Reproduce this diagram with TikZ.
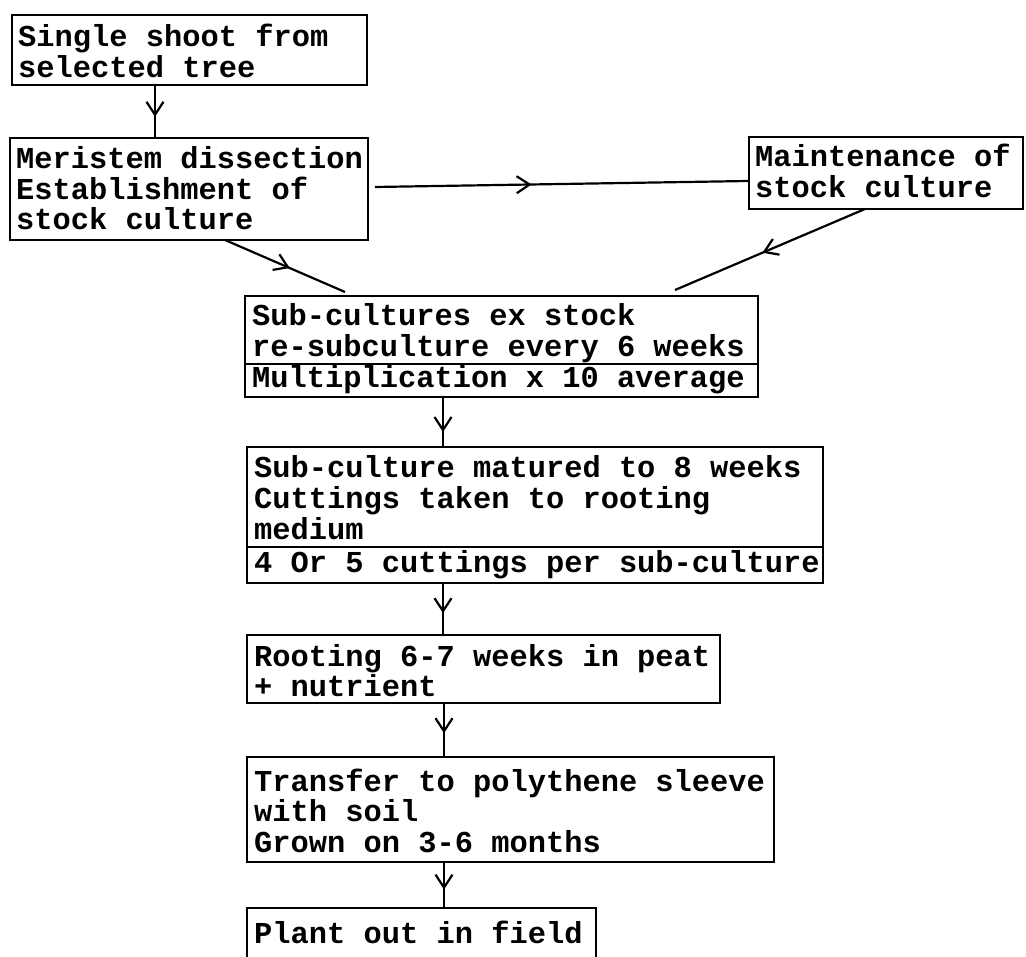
\documentclass[tikz,border=0pt]{standalone}
\usepackage{fontspec}
\setmonofont{Liberation Mono}
\usetikzlibrary{arrows.meta,decorations.markings,calc}
\tikzset{
  box/.style={draw, line width=2.2pt, rectangle, inner sep=0pt, outer sep=0pt, anchor=north west},
  txt/.style={inner sep=0pt, anchor=base west, font=\ttfamily\bfseries\fontsize{30.4}{30.5}\selectfont},
  conn/.style={line width=2.2pt},
  midarr/.style={postaction={decorate}, decoration={markings, mark=at position #1 with {\arrow{Straight Barb[length=13pt,width=17pt,line width=2.2pt]}}}}
}
\begin{document}
\begin{tikzpicture}[x=1pt,y=-1pt]
\useasboundingbox (0,0) rectangle (1026,957);
% boxes
\node[box, minimum width=355, minimum height=70] (b1) at (12,15) {};
\node[box, minimum width=358, minimum height=102] (b2) at (10,138) {};
\node[box, minimum width=274, minimum height=72] (bm) at (749,137) {};
\node[box, minimum width=513, minimum height=101] (b3) at (245,296) {};
\node[box, minimum width=576, minimum height=136] (b4) at (247,447) {};
\node[box, minimum width=473, minimum height=68] (b5) at (247,635) {};
\node[box, minimum width=527, minimum height=105] (b6) at (247,757) {};
\node[box, minimum width=349, minimum height=80] (b7) at (247,908) {};
% dividers
\draw[conn] ($(b3.north west)+(0,68)$) -- ($(b3.north east)+(0,68)$);
\draw[conn] ($(b4.north west)+(0,100)$) -- ($(b4.north east)+(0,100)$);
% texts
\node[txt] (t1a) at (18,47) {Single shoot from};
\node[txt] (t1b) at (18,77.5) {selected tree};
\node[txt] (t2a) at (16,169) {Meristem dissection};
\node[txt] (t2b) at (16,199.5) {Establishment of};
\node[txt] (t2c) at (16,230) {stock culture};
\node[txt] (tma) at (755,167) {Maintenance of};
\node[txt] (tmb) at (755,197.5) {stock culture};
\node[txt] (t3a) at (252,326) {Sub-cultures ex stock};
\node[txt] (t3b) at (252,356.5) {re-subculture every 6 weeks};
\node[txt] (t3c) at (252,388) {Multiplication x 10 average};
\node[txt] (t4a) at (254,478) {Sub-culture matured to 8 weeks};
\node[txt] (t4b) at (254,508.5) {Cuttings taken to rooting};
\node[txt] (t4c) at (254,539) {medium};
\node[txt] (t4d) at (254,572) {4 Or 5 cuttings per sub-culture};
\node[txt] (t5a) at (254,666) {Rooting 6-7 weeks in peat};
\node[txt] (t5b) at (254,696.5) {+ nutrient};
\node[txt] (t6a) at (254,791) {Transfer to polythene sleeve};
\node[txt] (t6b) at (254,821.5) {with soil};
\node[txt] (t6c) at (254,852) {Grown on 3-6 months};
\node[txt] (t7a) at (254,943) {Plant out in field};
% connectors
\draw[conn, midarr=0.6] ([xshift=143]b1.south west) -- ([xshift=145]b2.north west);
\draw[conn, midarr=0.42] ([shift={(7,49)}]b2.north east) -- ([shift={(-1,44)}]bm.north west);
\draw[conn, midarr=0.54] ([xshift=215]b2.south west) -- ([shift={(100,-4)}]b3.north west);
\draw[conn, midarr=0.54] ([xshift=116]bm.south west) -- ([shift={(430,-6)}]b3.north west);
\draw[conn, midarr=0.7] ([xshift=198]b3.south west) -- ([xshift=196]b4.north west);
\draw[conn, midarr=0.58] ([xshift=196]b4.south west) -- ([xshift=196]b5.north west);
\draw[conn, midarr=0.56] ([xshift=197]b5.south west) -- ([xshift=197]b6.north west);
\draw[conn, midarr=0.6] ([xshift=197]b6.south west) -- ([xshift=197]b7.north west);
\end{tikzpicture}
\end{document}
